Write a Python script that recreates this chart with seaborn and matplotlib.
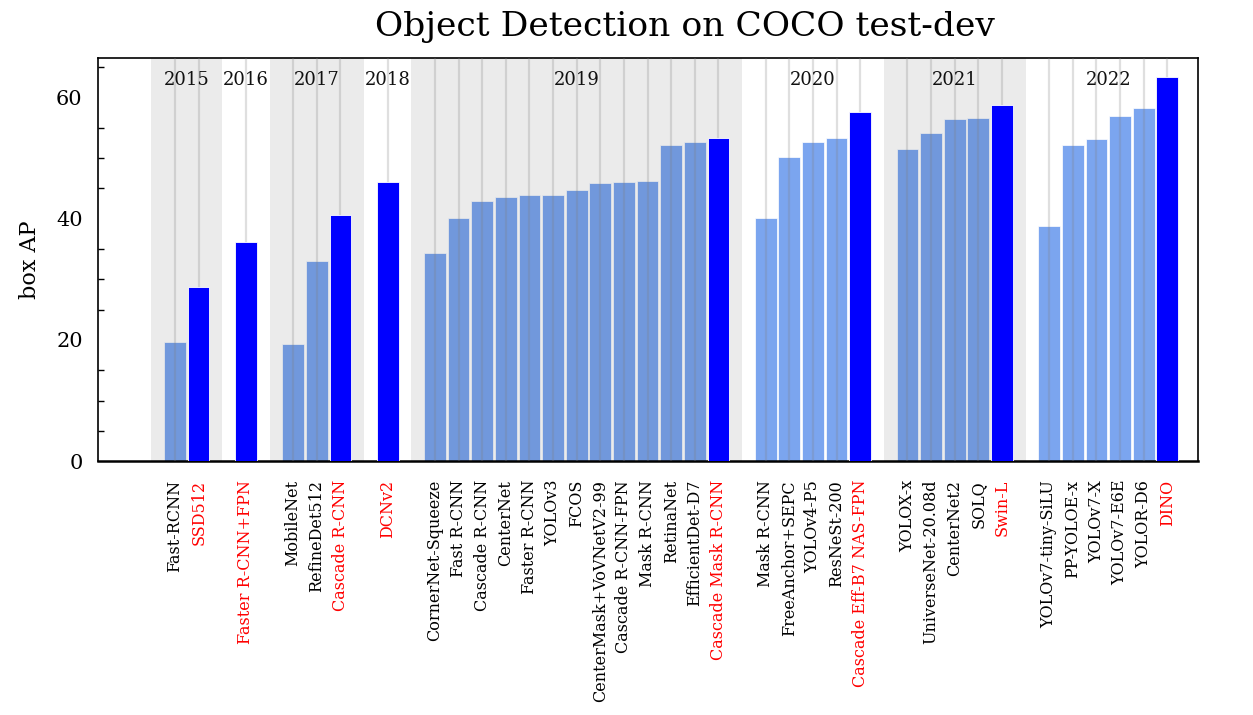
import pandas as pd
import matplotlib
matplotlib.use("Agg")
import matplotlib.pyplot as plt
import seaborn as sns

models = [
    'Fast-RCNN', 'SSD512',
    'Faster R-CNN+FPN',
    'MobileNet', 'RefineDet512', 'Cascade R-CNN',
    'DCNv2',
    'CornerNet-Squeeze', 'Fast R-CNN', 'Cascade R-CNN', 'CenterNet', 'Faster R-CNN',
    'YOLOv3', 'FCOS', 'CenterMask+VoVNetV2-99', 'Cascade R-CNN-FPN', 'Mask R-CNN',
    'RetinaNet', 'EfficientDet-D7', 'Cascade Mask R-CNN',
    'Mask R-CNN', 'FreeAnchor+SEPC', 'YOLOv4-P5', 'ResNeSt-200', 'Cascade Eff-B7 NAS-FPN',
    'YOLOX-x', 'UniverseNet-20.08d', 'CenterNet2', 'SOLQ', 'Swin-L',
    'YOLOv7-tiny-SiLU', 'PP-YOLOE-x', 'YOLOv7-X', 'YOLOv7-E6E', 'YOLOR-D6', 'DINO',
]
box_ap = [
    19.7, 28.8,
    36.2,
    19.3, 33.0, 40.6,
    46.0,
    34.4, 40.1, 42.9, 43.6, 43.9,
    43.9, 44.7, 45.8, 46.0, 46.2,
    52.2, 52.7, 53.3,
    40.1, 50.2, 52.6, 53.3, 57.5,
    51.5, 54.2, 56.4, 56.6, 58.7,
    38.8, 52.2, 53.2, 56.9, 58.2, 63.3,
]
years = ([2015] * 2 + [2016] + [2017] * 3 + [2018] + [2019] * 13
         + [2020] * 5 + [2021] * 5 + [2022] * 6)
best = [
    False, True,
    True,
    False, False, True,
    True,
    False, False, False, False, False, False, False, False, False, False, False, False, True,
    False, False, False, False, True,
    False, False, False, False, True,
    False, False, False, False, False, True,
]
shaded_years = [2015, 2017, 2019, 2021]

# one empty slot between years
pos = []
slot = 0
prev = None
for y in years:
    if prev is not None and y != prev:
        slot += 1
    pos.append(slot)
    slot += 1
    prev = y

df = pd.DataFrame({'model': models, 'ap': box_ap, 'year': years,
                   'kind': ['best' if b else 'other' for b in best], 'pos': pos})

sns.set_style('white')
plt.rcParams['font.family'] = ['DejaVu Serif']
plt.rcParams['text.color'] = 'black'
plt.rcParams['axes.labelcolor'] = 'black'
plt.rcParams['xtick.color'] = 'black'
plt.rcParams['ytick.color'] = 'black'

fig = plt.figure(figsize=(12.53, 7.15), dpi=100)
ax = fig.add_axes([0.0782, 0.355, 0.8779, 0.564])

sns.barplot(data=df, x='pos', y='ap', hue='kind', hue_order=['other', 'best'],
            palette={'other': 'cornflowerblue', 'best': 'blue'}, native_scale=True,
            dodge=False, width=0.92, saturation=1, legend=False,
            edgecolor='white', linewidth=0.6, ax=ax)

for p in ax.patches:
    fc = p.get_facecolor()
    if fc[0] < 0.05 and fc[1] < 0.05:
        p.set_zorder(3)
    else:
        p.set_alpha(0.85)
        p.set_zorder(1)

for yr, g in df.groupby('year'):
    if yr in shaded_years:
        ax.axvspan(g['pos'].min() - 1, g['pos'].max() + 1, color='black',
                   alpha=0.08, lw=0, zorder=2)
    ax.text((g['pos'].min() + g['pos'].max()) / 2, 62.8, str(yr),
            ha='center', va='center', fontsize=13, color='#111111', zorder=5)

ax.set_xticks(df['pos'])
ax.set_xticklabels(df['model'], rotation=90, fontsize=11.5)
for lab, b in zip(ax.get_xticklabels(), best):
    lab.set_color('red' if b else 'black')
ax.tick_params(axis='x', length=0, pad=13.5)
ax.xaxis.grid(True, color='gray', alpha=0.25, lw=1.6, zorder=4)
ax.set_axisbelow(False)
ax.yaxis.grid(False)

ax.set_xlim(-3.26, 43.3)
ax.set_ylim(0, 66.5)
ax.set_yticks([0, 20, 40, 60])
ax.set_yticks(range(0, 67, 5), minor=True)
ax.tick_params(axis='y', which='major', direction='in', length=8.5, width=1.1,
               labelsize=15, pad=11)
ax.tick_params(axis='y', which='minor', direction='in', length=4.3, width=1.0, left=True)
ax.set_xlabel('')
ax.set_ylabel('box AP', fontsize=16, labelpad=11)

for side in ['left', 'top', 'right']:
    ax.spines[side].set_linewidth(1.2)
    ax.spines[side].set_color('black')
ax.spines['bottom'].set_linewidth(1.8)
ax.spines['bottom'].set_color('black')

ax.set_title('Object Detection on COCO test-dev', fontsize=24.8, pad=16, x=0.534)

fig.savefig('out.png', dpi=100)
